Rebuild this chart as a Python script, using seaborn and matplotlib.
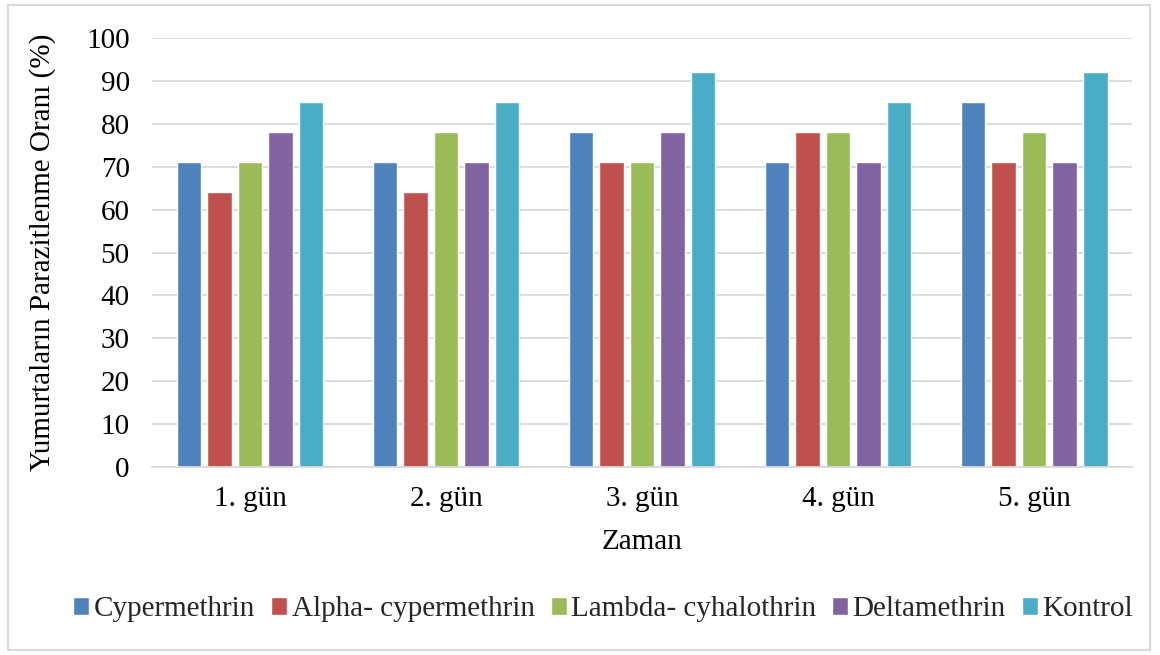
import matplotlib
matplotlib.use("Agg")
import matplotlib.pyplot as plt
import seaborn as sns
import pandas as pd
from matplotlib.patches import Rectangle

days = ["1. gün", "2. gün", "3. gün", "4. gün", "5. gün"]
series = ["Cypermethrin", "Alpha- cypermethrin", "Lambda- cyhalothrin", "Deltamethrin", "Kontrol"]
cypermethrin = [71, 71, 78, 71, 85]
alpha_cyper = [64, 64, 71, 78, 71]
lambda_cyha = [71, 78, 71, 78, 78]
deltamethrin = [78, 71, 78, 71, 71]
kontrol = [85, 85, 92, 85, 92]
colors = ["#4F81BD", "#C0504D", "#9BBB59", "#8064A2", "#4BACC6"]

values = [cypermethrin, alpha_cyper, lambda_cyha, deltamethrin, kontrol]
rows = []
for s, vals in zip(series, values):
    for d, v in zip(days, vals):
        rows.append({"Zaman": d, "Seri": s, "Deger": v})
df = pd.DataFrame(rows)

sns.set_theme(style="white")
plt.rcParams["font.family"] = ["Liberation Serif", "DejaVu Serif"]
FS = 21

fig = plt.figure(figsize=(11.6, 6.55), dpi=100)
ax = fig.add_axes([0.131, 0.287, 0.845, 0.655])

sns.barplot(data=df, x="Zaman", y="Deger", hue="Seri", order=days, hue_order=series,
            palette=colors, width=0.78, gap=0.2, saturation=1, ax=ax, legend=True)

ax.set_ylim(0, 100)
ax.set_yticks(range(0, 101, 10))
ax.yaxis.grid(True, color="#D9D9D9", linewidth=1.3)
ax.set_axisbelow(True)
for sp in ["top", "right", "left"]:
    ax.spines[sp].set_visible(False)
ax.spines["bottom"].set_color("#D9D9D9")
ax.spines["bottom"].set_linewidth(1.3)
ax.tick_params(axis="both", length=0, labelsize=FS, colors="black")
ax.tick_params(axis="x", pad=14)
ax.tick_params(axis="y", pad=16)
ax.set_xlabel("Zaman", fontsize=FS, color="black", labelpad=12)
ax.set_ylabel("Yumurtaların Parazitlenme Oranı (%)", fontsize=FS, color="black", labelpad=22)

handles, labels = ax.get_legend_handles_labels()
ax.legend_.remove()
fig.legend(handles, labels, loc="center", bbox_to_anchor=(0.52, 0.07), ncol=5,
           frameon=False, fontsize=FS, handlelength=0.55, handleheight=0.55,
           handletextpad=0.15, columnspacing=0.55, borderaxespad=0)

fig.patches.append(Rectangle((8 / 1160, 5 / 655), 1142 / 1160, 645 / 655,
                             transform=fig.transFigure, fill=False,
                             edgecolor="#D9D9D9", linewidth=1.5))

fig.savefig("out.png", dpi=100)
